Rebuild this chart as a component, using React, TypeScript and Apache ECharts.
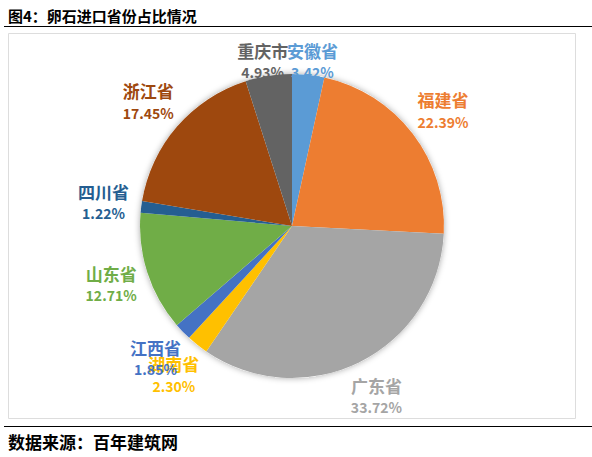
import React, { useEffect, useRef } from 'react';
import * as echarts from 'echarts';

const provinces = ['安徽省', '福建省', '广东省', '湖南省', '江西省', '山东省', '四川省', '浙江省', '重庆市'];
const shares = [3.42, 22.39, 33.72, 2.3, 1.85, 12.71, 1.22, 17.45, 4.93];
const colors = ['#5B9BD5', '#ED7D31', '#A5A5A5', '#FFC000', '#4472C4', '#70AD47', '#255E91', '#9E480E', '#636363'];
const titleText = '图4：卵石进口省份占比情况';
const sourceText = '数据来源：百年建筑网';

const FONT = '"Noto Sans CJK SC", "Noto Sans", sans-serif';

export default function App() {
  const ref = useRef<HTMLDivElement>(null);

  useEffect(() => {
    document.body.style.margin = '0';
    const chart = echarts.init(ref.current!, null, { renderer: 'svg' });
    const center = [292, 226];

    const sliceData = provinces.map((name, i) => ({
      name,
      value: shares[i],
      itemStyle: { color: colors[i] },
    }));
    const labelData = provinces.map((name, i) => ({
      name,
      value: shares[i],
      itemStyle: { color: 'rgba(0,0,0,0)' },
      label: { color: colors[i] },
    }));

    chart.setOption({
      animation: false,
      graphic: [
        {
          type: 'text',
          x: 8,
          y: 15,
          style: {
            text: titleText,
            font: `bold 15px ${FONT}`,
            fill: '#000',
            textVerticalAlign: 'middle',
          },
        },
        {
          type: 'line',
          shape: { x1: 4, y1: 26.5, x2: 592, y2: 26.5 },
          style: { stroke: '#000', lineWidth: 1 },
        },
        {
          type: 'rect',
          shape: { x: 8.5, y: 33.5, width: 567, height: 385 },
          style: { fill: 'none', stroke: '#DDDDDD', lineWidth: 1 },
        },
        {
          type: 'line',
          shape: { x1: 4, y1: 426.5, x2: 592, y2: 426.5 },
          style: { stroke: '#000', lineWidth: 1 },
        },
        {
          type: 'text',
          x: 8,
          y: 441,
          style: {
            text: sourceText,
            font: `bold 17px ${FONT}`,
            fill: '#000',
            textVerticalAlign: 'middle',
          },
        },
      ],
      series: [
        {
          type: 'pie',
          silent: true,
          center,
          radius: 152,
          z: 1,
          label: { show: false },
          labelLine: { show: false },
          itemStyle: { color: '#fff', shadowBlur: 6, shadowColor: 'rgba(0,0,0,0.35)' },
          data: [{ value: 1, name: '' }],
        },
        {
          type: 'pie',
          silent: true,
          center,
          radius: 152,
          startAngle: 90,
          clockwise: true,
          z: 2,
          label: { show: false },
          labelLine: { show: false },
          emphasis: { disabled: true },
          data: sliceData,
        },
        {
          type: 'pie',
          silent: true,
          center,
          radius: [0, 374],
          startAngle: 90,
          clockwise: true,
          z: 3,
          emphasis: { disabled: true },
          labelLine: { show: false },
          label: {
            show: true,
            position: 'inside',
            rotate: 0,
            formatter: (p: any) => `{n|${p.name}}\n{p|${Number(p.value).toFixed(2)}%}`,
            rich: {
              n: { fontSize: 17, fontWeight: 'bold', fontFamily: FONT, lineHeight: 22 },
              p: { fontSize: 14, fontWeight: 'bold', fontFamily: FONT, lineHeight: 22 },
            },
          },
          labelLayout: (params: any) => {
            const r = params.labelRect;
            if (r.y + r.height / 2 < 61) return { y: 61 };
            return {};
          },
          data: labelData,
        },
      ],
    });

    return () => chart.dispose();
  }, []);

  return <div ref={ref} style={{ width: 592, height: 457 }} />;
}
